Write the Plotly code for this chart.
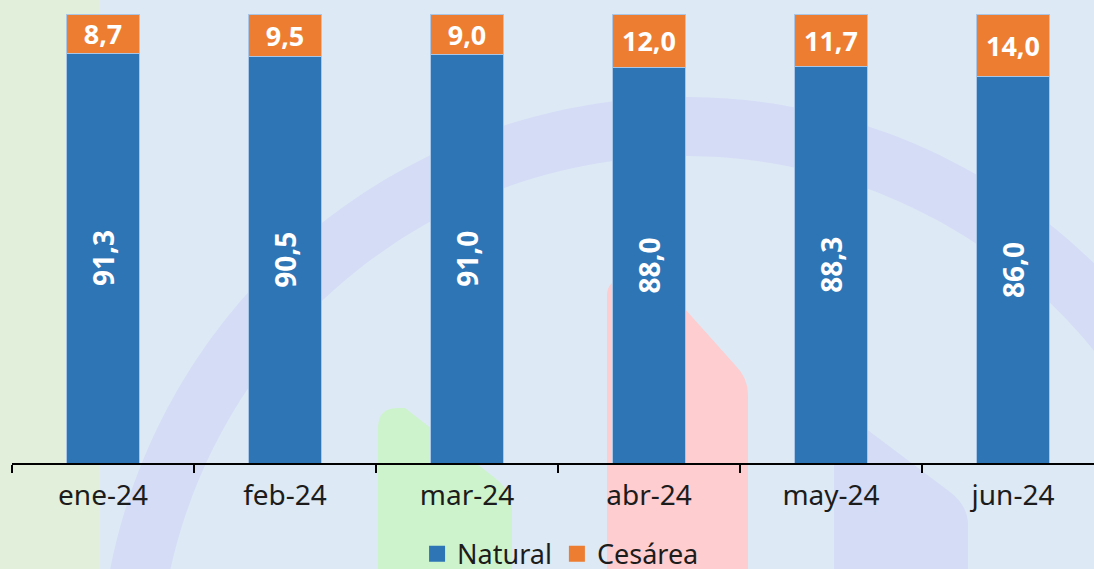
import numpy as np
import plotly.graph_objects as go

months = ["ene-24", "feb-24", "mar-24", "abr-24", "may-24", "jun-24"]
natural = [91.3, 90.5, 91.0, 88.0, 88.3, 86.0]
cesarea = [8.7, 9.5, 9.0, 12.0, 11.7, 14.0]

W, H = 1094, 569
L, R, T, B = 12, 0, 14, 106
PW, PH = W - L - R, H - T - B

def px(x, y):
    return (x - L) / PW, (H - B - y) / PH

def path_from(cmds):
    out = []
    for c in cmds:
        op, pts = c[0], c[1:]
        coords = []
        for (x, y) in pts:
            a, b = px(x, y)
            coords.append(f"{a:.5f},{b:.5f}")
        out.append(op + " ".join(coords))
    return " ".join(out) + " Z"

shapes = []
# left green strip
x0, y0 = px(0, -5)
x1, y1 = px(100, H + 5)
shapes.append(dict(type="rect", xref="paper", yref="paper", x0=x0, x1=x1, y0=y1, y1=y0,
                   fillcolor="#e2efda", line=dict(width=0), layer="below"))
# big arc ring
cx, cy, Ro, Ri = 685, 683, 586, 527
ang = np.linspace(np.pi, 2 * np.pi, 200)
outer = [px(cx + Ro * np.cos(a), cy + Ro * np.sin(a)) for a in ang]
inner = [px(cx + Ri * np.cos(a), cy + Ri * np.sin(a)) for a in ang[::-1]]
pts = outer + inner
p = "M" + " L".join(f"{a:.5f},{b:.5f}" for a, b in pts) + " Z"
shapes.append(dict(type="path", xref="paper", yref="paper", path=p,
                   fillcolor="#d5dcf6", line=dict(width=0), layer="below"))
# green rounded shape
shapes.append(dict(type="path", xref="paper", yref="paper", layer="below",
                   fillcolor="#cdf3cc", line=dict(width=0),
                   path=path_from([("M", (378, 600)), ("L", (378, 428)), ("Q", (378, 408), (398, 408)),
                                   ("L", (405, 408)), ("L", (495, 478)), ("Q", (512, 492), (512, 510)),
                                   ("L", (512, 600))])))
# pink rounded shape
shapes.append(dict(type="path", xref="paper", yref="paper", layer="below",
                   fillcolor="#fdcdcf", line=dict(width=0),
                   path=path_from([("M", (607, 600)), ("L", (607, 296)), ("Q", (607, 280), (623, 280)),
                                   ("L", (659, 280)), ("L", (735, 365)), ("Q", (748, 378), (748, 395)),
                                   ("L", (748, 600))])))
# lavender rounded shape
shapes.append(dict(type="path", xref="paper", yref="paper", layer="below",
                   fillcolor="#d5dcf6", line=dict(width=0),
                   path=path_from([("M", (834, 600)), ("L", (834, 440)), ("Q", (834, 428), (846, 428)),
                                   ("L", (865, 428)), ("L", (950, 492)), ("Q", (968, 506), (968, 525)),
                                   ("L", (968, 600))])))

FONT = "Noto Sans"
BLUE, ORANGE = "#2e75b6", "#ed7d31"
fig = go.Figure()
fig.add_trace(go.Bar(
    x=months, y=natural, name="Natural", showlegend=False,
    marker=dict(color=BLUE, line=dict(color="#a9c6e6", width=1)),
    texttemplate="%{y:.1f}", textposition="inside", insidetextanchor="middle",
    textangle=-90, constraintext="none",
    textfont=dict(family=FONT, size=28, color="white", weight="bold"),
))
fig.add_trace(go.Bar(
    x=months, y=cesarea, name="Cesárea", showlegend=False,
    marker=dict(color=ORANGE, line=dict(color="#a9c6e6", width=1)),
    texttemplate="%{y:.1f}", textposition="inside", insidetextanchor="middle",
    textangle=0, constraintext="none",
    textfont=dict(family=FONT, size=27, color="white", weight="bold"),
))
# legend entries with larger square swatches
for nm, col in [("Natural", BLUE), ("Cesárea", ORANGE)]:
    fig.add_trace(go.Scatter(x=[None], y=[None], mode="markers", name=nm,
                             marker=dict(symbol="square", size=16, color=col),
                             hoverinfo="skip"))

fig.update_layout(
    width=W, height=H, barmode="stack", bargap=0.6,
    separators=",.",
    paper_bgcolor="#dde9f5", plot_bgcolor="rgba(0,0,0,0)",
    margin=dict(l=L, r=R, t=T, b=B, autoexpand=False),
    font=dict(family=FONT, size=27, color="#1c1c1c"),
    shapes=shapes,
    showlegend=True,
    legend=dict(orientation="h", x=0.507, xanchor="center", y=-0.203, yanchor="middle",
                traceorder="normal",
                font=dict(size=27, color="#1c1c1c"), bgcolor="rgba(0,0,0,0)",
                itemclick=False),
    xaxis=dict(range=[-0.5, -0.5 + PW / 182.0], tickson="boundaries", ticks="outside",
               ticklen=8, tickwidth=1.5, tickcolor="black", showline=True,
               linecolor="black", linewidth=1.5, showgrid=False, zeroline=False,
               ticklabelstandoff=7,
               tickfont=dict(size=28, color="#1c1c1c")),
    yaxis=dict(range=[0, 100], visible=False, showgrid=False),
)

fig.write_html("out.html", config={"displayModeBar": False},
               post_script="document.body.style.margin='0';document.body.style.overflow='hidden';")
